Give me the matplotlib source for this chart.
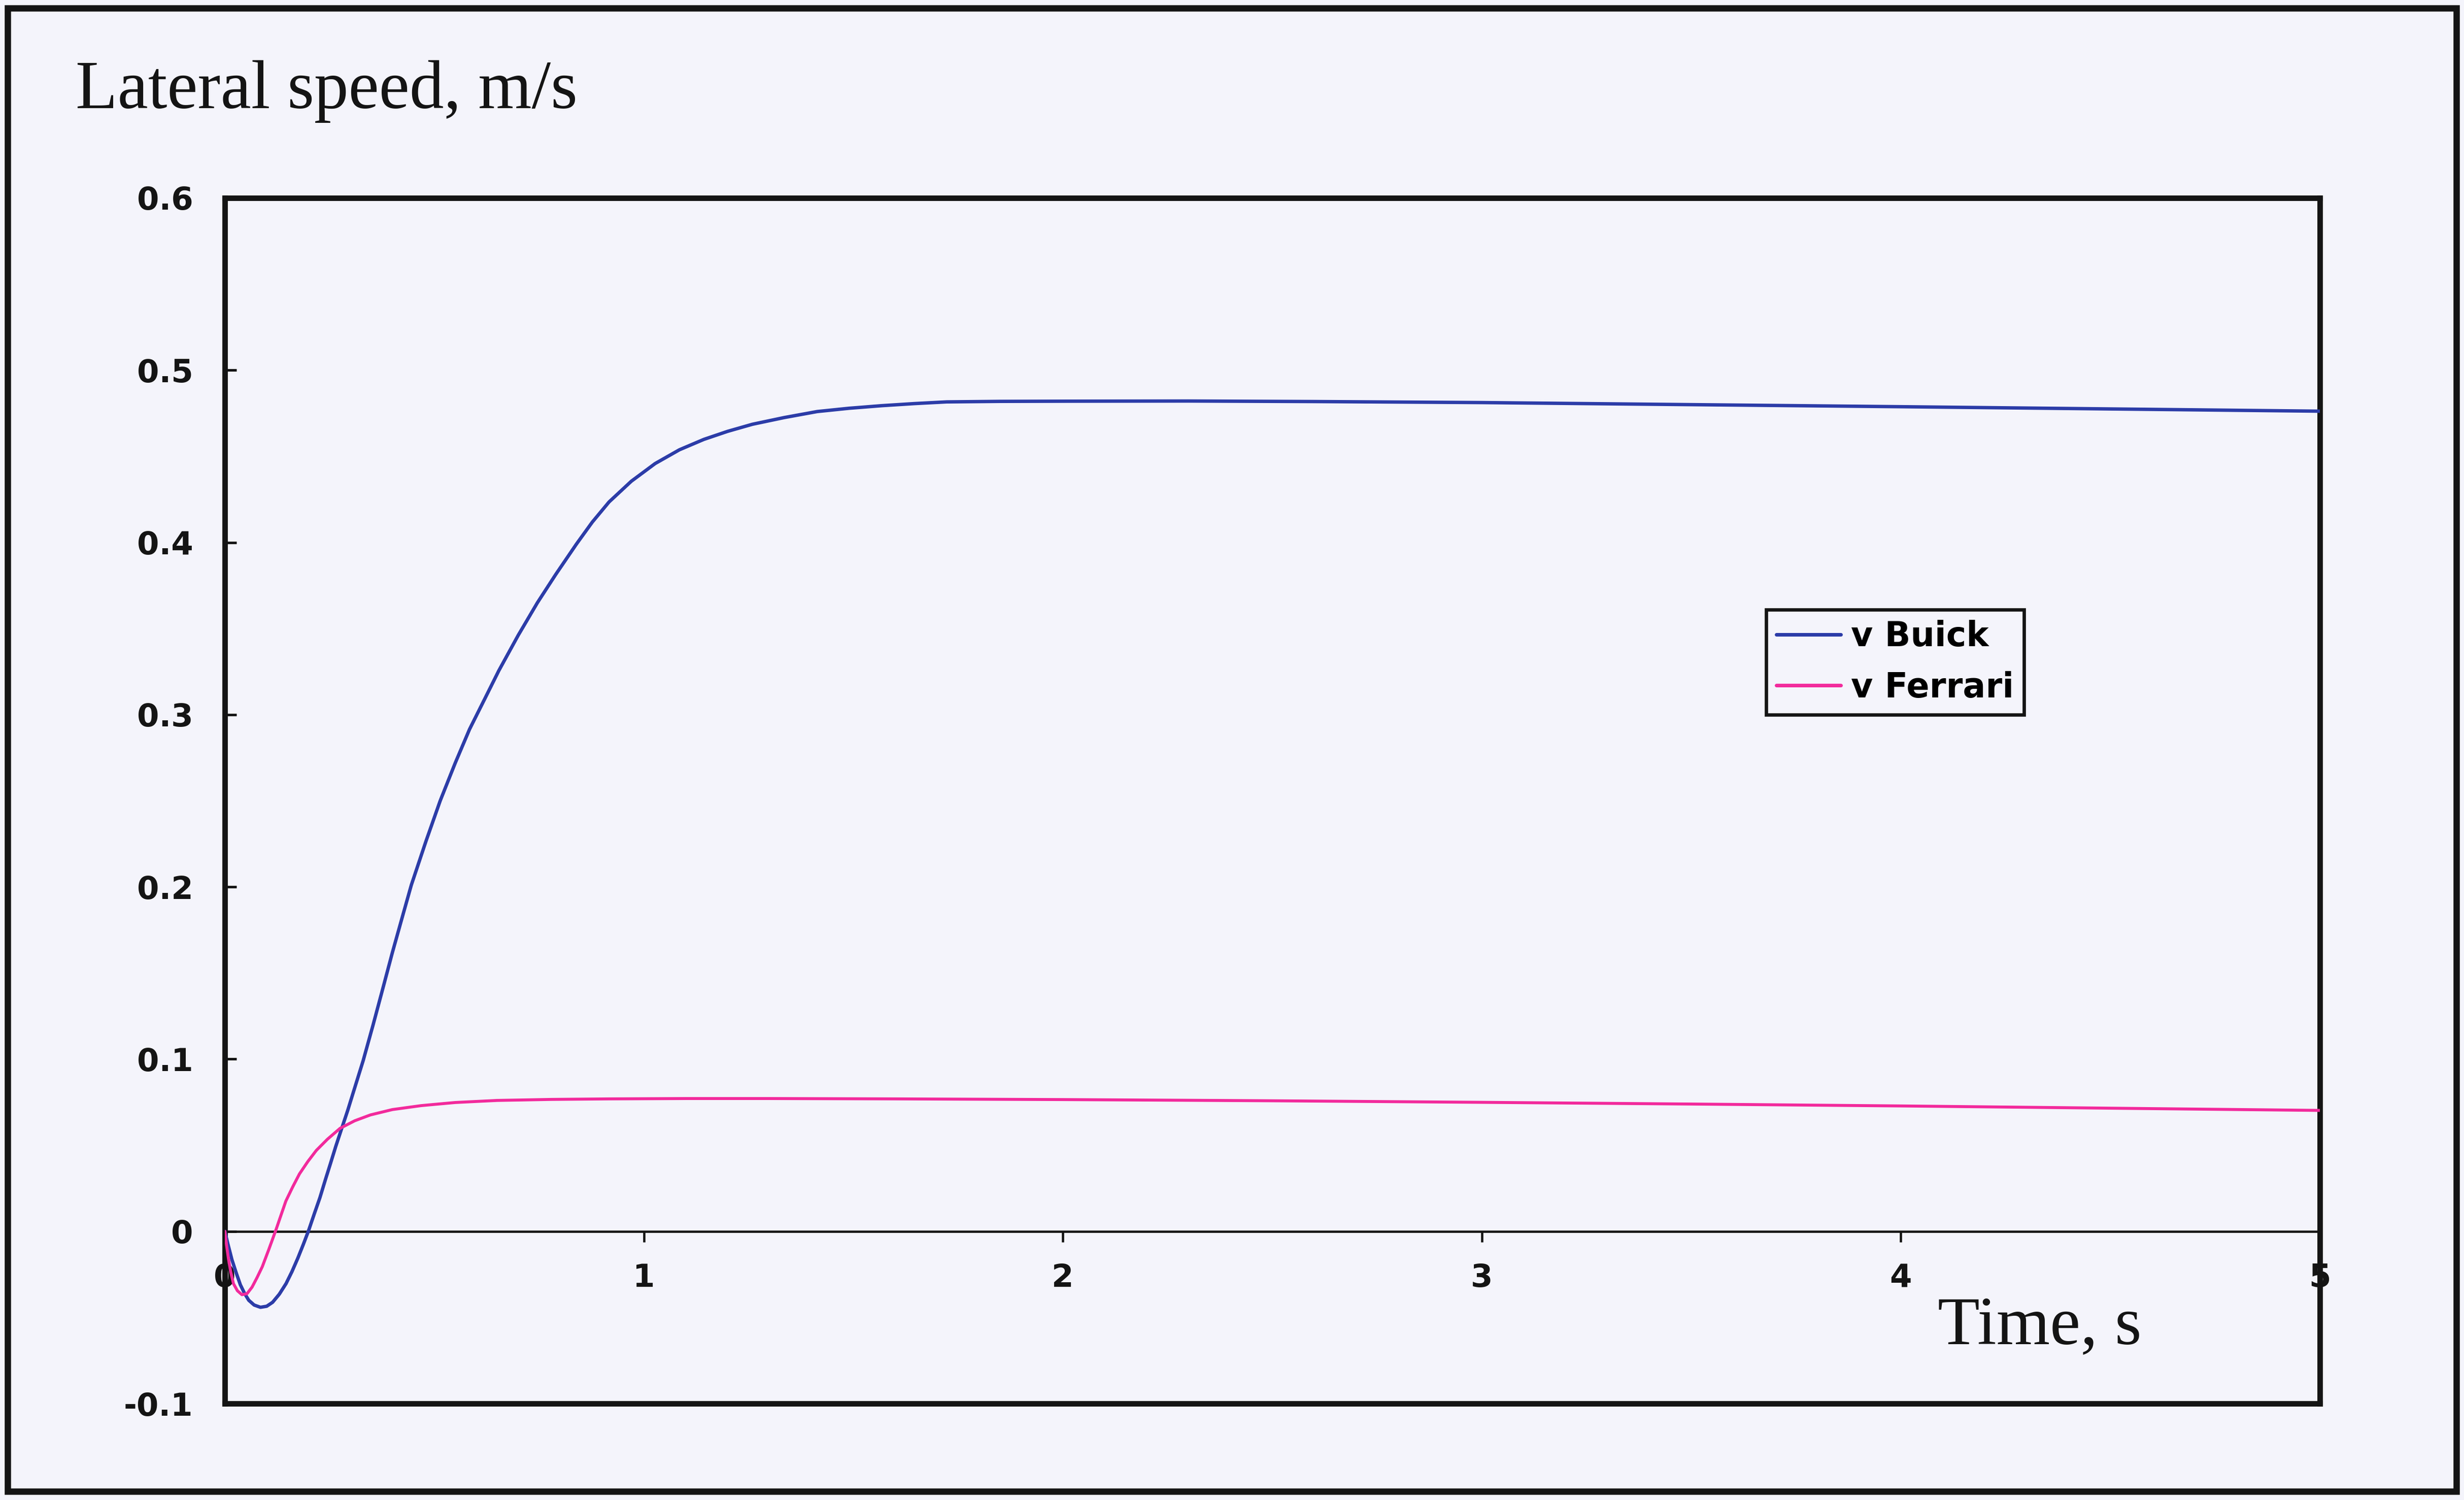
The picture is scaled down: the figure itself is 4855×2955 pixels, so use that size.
import matplotlib
matplotlib.use("Agg")
import matplotlib.pyplot as plt
from matplotlib.patches import Rectangle

# Lateral speed response, m/s
time_buick = [0, 0.008, 0.017, 0.027, 0.037, 0.047, 0.057, 0.07, 0.085, 0.10,
              0.114, 0.13, 0.146, 0.16, 0.174, 0.187, 0.200, 0.213, 0.227, 0.24,
              0.251, 0.265, 0.279, 0.293, 0.307, 0.33, 0.354, 0.376, 0.40, 0.423,
              0.445, 0.48, 0.514, 0.55, 0.584, 0.62, 0.654, 0.70, 0.746, 0.79,
              0.839, 0.877, 0.917, 0.97, 1.027, 1.085, 1.143, 1.2, 1.259, 1.335,
              1.414, 1.49, 1.568, 1.645, 1.723, 1.85, 2.007, 2.3, 2.6, 3.0, 3.5,
              4.0, 4.5, 5.0]
v_buick = [0.0, -0.008, -0.0165, -0.024, -0.031, -0.036, -0.040, -0.0428,
           -0.0441, -0.0435, -0.0412, -0.0365, -0.0304, -0.0235, -0.0157, -0.0078,
           0.0005, 0.0098, 0.0196, 0.0300, 0.0385, 0.0495, 0.0598, 0.070, 0.081,
           0.099, 0.120, 0.140, 0.162, 0.182, 0.201, 0.2265, 0.250, 0.272, 0.2915,
           0.309, 0.3256, 0.346, 0.3650, 0.3815, 0.399, 0.4118, 0.4235, 0.4355,
           0.4458, 0.4538, 0.4598, 0.4645, 0.4686, 0.4725, 0.476, 0.4779, 0.4794,
           0.4806, 0.4816, 0.4819, 0.482, 0.4821, 0.4818, 0.4812, 0.480, 0.4788,
           0.4775, 0.4762]

time_ferrari = [0, 0.004, 0.0085, 0.014, 0.0206, 0.03, 0.0408, 0.053, 0.065,
                0.077, 0.0893, 0.105, 0.1215, 0.1335, 0.1457, 0.162, 0.178, 0.198,
                0.2184, 0.245, 0.275, 0.31, 0.3476, 0.40, 0.469, 0.55, 0.65, 0.78,
                0.917, 1.1, 1.3, 1.6, 2.0, 2.5, 3.0, 3.5, 4.0, 4.5, 5.0]
v_ferrari = [0.0, -0.008, -0.0157, -0.0235, -0.0304, -0.0345, -0.0368, -0.0362,
             -0.0324, -0.0268, -0.0206, -0.0105, 0.0005, 0.009, 0.0176, 0.0258,
             0.0333, 0.0405, 0.047, 0.0535, 0.0598, 0.0642, 0.0676, 0.0707, 0.0730,
             0.0748, 0.0760, 0.0766, 0.0769, 0.0771, 0.0771, 0.0769, 0.0765,
             0.0758, 0.0749, 0.0739, 0.0728, 0.0715, 0.0702]

series_labels = ["v Buick", "v Ferrari"]
x_ticks = [0, 1, 2, 3, 4, 5]
y_ticks = [-0.1, 0, 0.1, 0.2, 0.3, 0.4, 0.5, 0.6]
y_tick_labels = ["-0.1", "0", "0.1", "0.2", "0.3", "0.4", "0.5", "0.6"]

BG = "#F4F4FB"
INK = "#141414"
BLUE = "#2C3CA8"
PINK = "#F22A9C"

fig = plt.figure(figsize=(4855 / 300, 2955 / 300), dpi=300, facecolor=BG)

# chart border
fig.patches.append(Rectangle((15 / 4855, 1 - 2938 / 2955), (4840 - 15) / 4855,
                             (2938 - 16) / 2955, transform=fig.transFigure,
                             fill=False, edgecolor=INK, linewidth=3.0))

ax = fig.add_axes([443 / 4855, 1 - 2765 / 2955, (4571 - 443) / 4855,
                   (2765 - 390) / 2955])
ax.set_facecolor(BG)

ax.plot(time_buick, v_buick, color=BLUE, linewidth=1.6, label=series_labels[0],
        solid_joinstyle="round", solid_capstyle="round", zorder=3)
ax.plot(time_ferrari, v_ferrari, color=PINK, linewidth=1.4,
        label=series_labels[1], solid_joinstyle="round",
        solid_capstyle="round", zorder=3)

ax.set_xlim(0, 5)
ax.set_ylim(-0.1, 0.6)

# x axis runs along v = 0, the plot frame stays closed
ax.spines["bottom"].set_position(("data", 0))
ax.spines["bottom"].set_linewidth(1.1)
ax.spines["bottom"].set_color(INK)
for side in ("left", "right", "top"):
    ax.spines[side].set_linewidth(2.6)
    ax.spines[side].set_color(INK)
ax.axhline(-0.1, color=INK, linewidth=2.6, clip_on=False, zorder=4)

tick_font = dict(family="DejaVu Sans", weight="bold", size=15)
ax.set_xticks(x_ticks)
ax.set_xticklabels([str(t) for t in x_ticks], fontdict=tick_font)
ax.set_yticks(y_ticks)
ax.set_yticklabels(y_tick_labels, fontdict=tick_font)
ax.tick_params(axis="x", direction="out", length=5, width=1.1, pad=10,
               colors=INK)
ax.tick_params(axis="y", direction="in", length=5.5, width=1.2, pad=15,
               colors=INK)

leg = ax.legend(loc="upper left", bbox_to_anchor=(3480 / 4855, 1 - 1201 / 2955),
                bbox_transform=fig.transFigure, borderaxespad=0,
                prop=dict(family="DejaVu Sans", weight="bold", size=16),
                handlelength=1.9, handletextpad=0.3, borderpad=0.3,
                labelspacing=0.52, fancybox=False, framealpha=1,
                facecolor=BG, edgecolor=INK)
leg.get_frame().set_linewidth(1.6)
for line in leg.get_lines():
    line.set_linewidth(1.7)

fig.text(149 / 4855, 1 - 213 / 2955, "Lateral speed, m/s",
         family="Liberation Serif", size=32.5, color=INK, va="baseline",
         ha="left")
fig.text(3818 / 4855, 1 - 2647 / 2955, "Time, s", family="Liberation Serif",
         size=32.5, color=INK, va="baseline", ha="left")

fig.savefig("out.png", dpi=300, facecolor=BG)
